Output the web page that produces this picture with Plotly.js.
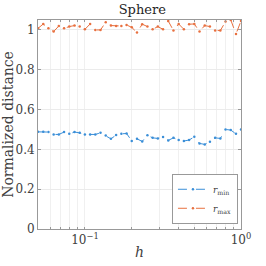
<!DOCTYPE html>
<html><head><meta charset="utf-8">
<script src="https://cdn.plot.ly/plotly-3.0.1.min.js"></script>
<style>html,body{margin:0;padding:0;background:#fff}#c{width:266px;height:266px}</style>
</head><body><div id="c"></div>
<script>
const h = [0.05,0.05400,0.05831,0.06297,0.06800,0.07344,0.07931,0.08565,0.09249,0.09988,
0.10786,0.11648,0.12579,0.13585,0.14670,0.15843,0.17109,0.18477,0.19953,0.21548,
0.23270,0.25130,0.27138,0.29307,0.31649,0.34179,0.36911,0.39861,0.43047,0.46487,
0.50202,0.54214,0.58547,0.63226,0.68279,0.73736,0.79629,0.85993,0.92866,1.0];
const rMin = [0.488,0.488,0.487,0.475,0.475,0.487,0.478,0.487,0.483,0.475,
0.475,0.475,0.483,0.470,0.453,0.472,0.478,0.480,0.442,0.453,
0.440,0.471,0.458,0.455,0.462,0.445,0.458,0.447,0.442,0.447,
0.463,0.430,0.425,0.438,0.458,0.455,0.500,0.497,0.478,0.500];
const rMax = [1.008,1.030,1.008,0.992,1.020,1.008,1.017,1.022,1.017,1.003,
1.030,1.000,1.000,1.039,1.022,1.020,1.020,1.025,1.013,0.987,
1.029,1.017,1.003,1.017,1.003,1.045,0.997,1.030,1.003,1.029,
1.030,0.992,1.022,1.017,0.997,0.997,1.042,1.050,0.980,1.045];
const xTickVals = [0.05,0.06,0.07,0.08,0.09,0.1,0.2,0.3,0.4,0.5,0.6,0.7,0.8,0.9,1];
const xTickText = ['','','','','','10<sup>−1</sup>','','','','','','','','','10<sup>0</sup>'];
const yTickVals = [0,0.2,0.4,0.6,0.8,1];
const yTickText = ['0','0.2','0.4','0.6','0.8','1'];

const F = "DejaVu Serif";
const traces = [
 {x:h, y:rMin, type:'scatter', mode:'lines+markers', name:'<i>r</i><sub>min</sub>',
  line:{color:'#3b8fd8', width:1, dash:'dash'}, marker:{color:'#3b8fd8', size:2.5}},
 {x:h, y:rMax, type:'scatter', mode:'lines+markers', name:'<i>r</i><sub>max</sub>',
  line:{color:'#e8703f', width:1, dash:'dash'}, marker:{color:'#e8703f', size:2.5}}
];
const layout = {
 width:266, height:266, margin:{l:38, r:25, t:20, b:37},
 paper_bgcolor:'#fff', plot_bgcolor:'#fff',
 font:{family:F, size:12, color:'#404040'},
 title:{text:'Sphere', x:0.535, xanchor:'center', yref:'container', y:0.965, yanchor:'middle', font:{family:F, size:13, color:'#262626'}},
 xaxis:{type:'log', range:[Math.log10(0.05), 0], tickmode:'array', tickvals:xTickVals, ticktext:xTickText,
  showgrid:true, gridcolor:'#f0f0f0', gridwidth:1, zeroline:false,
  showline:true, linecolor:'#999', linewidth:1, mirror:'ticks', ticks:'inside', ticklen:2, tickcolor:'#999',
  tickfont:{family:F, size:12, color:'#404040'},
  title:{text:'<i>h</i>', font:{family:F, size:14, color:'#404040'}, standoff:0}},
 yaxis:{range:[0,1.05], tickmode:'array', tickvals:yTickVals, ticktext:yTickText,
  showgrid:true, gridcolor:'#ebebeb', gridwidth:1, zeroline:false,
  showline:true, linecolor:'#999', linewidth:1, mirror:'ticks', ticks:'inside', ticklen:3, tickcolor:'#999',
  tickfont:{family:F, size:12, color:'#404040'},
  title:{text:'Normalized distance', font:{family:F, size:14, color:'#404040'}, standoff:1}},
 legend:{x:0.985, y:0.025, xanchor:'right', yanchor:'bottom', bgcolor:'#fff', bordercolor:'#999', borderwidth:1,
  font:{family:F, size:9, color:'#404040'}, tracegroupgap:0, itemwidth:30},
 showlegend:true
};
Plotly.newPlot('c', traces, layout, {staticPlot:true, displayModeBar:false});
</script></body></html>
